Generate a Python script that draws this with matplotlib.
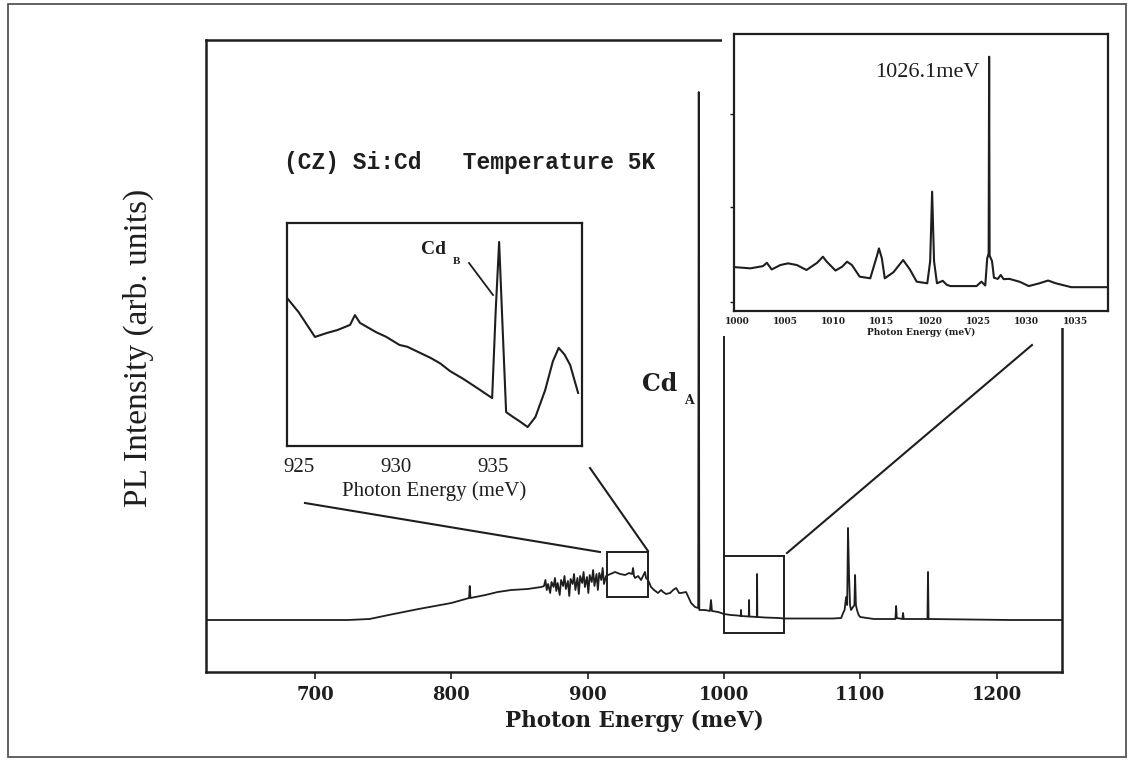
import matplotlib
matplotlib.use("Agg")
import matplotlib.pyplot as plt
from matplotlib.lines import Line2D
from matplotlib.patches import Rectangle

# ---------------- data ----------------
# main spectrum (meV, arb. units)
main_energy = [620.0, 700.0, 724.0, 740.0, 754.0, 776.0, 800.0, 813.0, 813.5, 814.0,
               825.0, 834.0, 844.0, 856.0, 866.0,
               868.0, 869.0, 870.0, 871.0, 872.5, 873.5, 875.0, 876.0, 877.0, 878.0,
               879.5, 880.5, 882.0, 883.0, 884.0, 885.5, 886.5, 887.5, 889.0, 890.0,
               891.0, 892.5, 893.5, 894.5, 896.0, 897.0, 898.0, 899.5, 900.5, 901.5,
               903.0, 904.0, 905.0, 906.5, 907.5, 908.5, 910.0, 911.0, 912.0, 913.5,
               915.0, 920.1, 923.8, 927.4, 930.4, 932.6, 933.3, 934.0, 934.8, 937.0,
               939.2, 940.6, 942.1, 942.8, 944.3, 946.5, 948.7, 951.6, 953.9, 955.3,
               957.5, 960.5, 962.7, 964.9, 967.1, 968.5, 972.2, 975.9, 978.8, 981.1,
               981.5, 981.9, 986.1, 989.7, 990.5, 991.2, 995.7, 1000.1, 1005.0, 1010.0,
               1012.3, 1012.5, 1012.7, 1018.2, 1018.4, 1018.6, 1024.1, 1024.3, 1024.5,
               1030.0, 1040.0, 1044.0, 1060.0, 1080.0, 1086.0, 1087.4, 1088.5, 1089.6,
               1090.4, 1091.0, 1091.8, 1092.5, 1093.2, 1094.7, 1095.7, 1096.2, 1096.8,
               1097.6, 1098.8, 1099.9, 1110.0, 1125.8, 1126.3, 1126.8, 1130.9, 1131.4,
               1131.9, 1149.3, 1149.7, 1150.1, 1180.0, 1210.0, 1248.0]
main_intensity = [0.00, 0.00, 0.00, 0.01, 0.05, 0.11, 0.17, 0.22, 0.34, 0.22,
                  0.25, 0.28, 0.30, 0.31, 0.33,
                  0.34, 0.40, 0.30, 0.36, 0.27, 0.38, 0.33, 0.42, 0.29, 0.37,
                  0.25, 0.40, 0.34, 0.44, 0.31, 0.39, 0.24, 0.41, 0.36, 0.46,
                  0.30, 0.42, 0.26, 0.44, 0.37, 0.48, 0.33, 0.43, 0.27, 0.45,
                  0.38, 0.50, 0.34, 0.46, 0.30, 0.47, 0.40, 0.52, 0.36, 0.44,
                  0.45, 0.48, 0.46, 0.45, 0.47, 0.46, 0.52, 0.44, 0.42, 0.44,
                  0.40, 0.44, 0.48, 0.42, 0.40, 0.33, 0.30, 0.27, 0.30, 0.28,
                  0.26, 0.27, 0.30, 0.32, 0.27, 0.27, 0.28, 0.17, 0.13, 0.12,
                  5.28, 0.10, 0.10, 0.09, 0.20, 0.09, 0.08, 0.06, 0.05, 0.045,
                  0.04, 0.10, 0.04, 0.035, 0.20, 0.035, 0.03, 0.46, 0.03,
                  0.025, 0.02, 0.015, 0.015, 0.015, 0.02, 0.07, 0.10, 0.23,
                  0.15, 0.92, 0.43, 0.15, 0.10, 0.13, 0.15, 0.45, 0.15,
                  0.10, 0.05, 0.03, 0.01, 0.01, 0.14, 0.02, 0.01, 0.07,
                  0.01, 0.01, 0.48, 0.01, 0.005, 0.0, 0.0]
main_xticks = [700, 800, 900, 1000, 1100, 1200]

# left inset: Cd_B region
cdb_energy = [924.4, 925.0, 925.84, 926.46, 927.0, 927.65, 927.9, 928.16, 929.0, 929.5,
              930.2, 930.6, 931.2, 931.8, 932.3, 932.8, 933.5, 934.2, 934.97, 935.15,
              935.33, 935.5, 935.69, 936.05, 936.4, 936.8, 937.2, 937.7, 938.1, 938.4,
              938.7, 938.99, 939.4]
cdb_intensity = [0.664, 0.60, 0.489, 0.507, 0.52, 0.543, 0.587, 0.552, 0.51, 0.49,
                 0.453, 0.445, 0.42, 0.395, 0.37, 0.336, 0.30, 0.26, 0.215, 0.60,
                 0.915, 0.55, 0.152, 0.130, 0.11, 0.085, 0.13, 0.25, 0.38, 0.44,
                 0.41, 0.363, 0.238]
cdb_xticks = [925, 930, 935]

# right inset: 1000-1038 meV region
line_energy = [999.9, 1001.4, 1002.7, 1003.1, 1003.6, 1004.5, 1005.3, 1006.2, 1007.2, 1008.3,
               1008.9, 1009.3, 1010.2, 1010.9, 1011.4, 1011.9, 1012.7, 1013.8, 1014.5, 1014.7,
               1015.0, 1015.3, 1016.2, 1017.2, 1017.9, 1018.6, 1019.7, 1020.0, 1020.2, 1020.4,
               1020.7, 1021.3, 1021.7, 1022.1, 1023.4, 1024.8, 1025.3, 1025.7, 1025.9, 1026.05,
               1026.1, 1026.15, 1026.4, 1026.6, 1027.0, 1027.3, 1027.6, 1028.2, 1029.3, 1030.2,
               1031.3, 1032.2, 1033.0, 1034.6, 1036.0, 1038.4]
line_intensity = [0.158, 0.154, 0.162, 0.174, 0.150, 0.166, 0.172, 0.166, 0.148, 0.174,
                  0.196, 0.178, 0.146, 0.160, 0.178, 0.166, 0.124, 0.118, 0.200, 0.226,
                  0.190, 0.118, 0.140, 0.184, 0.150, 0.106, 0.100, 0.180, 0.431, 0.180,
                  0.100, 0.109, 0.095, 0.090, 0.090, 0.090, 0.106, 0.092, 0.190, 0.208,
                  0.918, 0.200, 0.180, 0.120, 0.116, 0.130, 0.115, 0.116, 0.105, 0.090,
                  0.100, 0.110, 0.100, 0.086, 0.086, 0.086]
line_xticks = [1000, 1005, 1010, 1015, 1020, 1025, 1030, 1035]

# ---------------- layout helpers ----------------
W, H = 1129, 769
ink = "#1e1e1e"
fig = plt.figure(figsize=(W / 100, H / 100), dpi=100)
fig.patch.set_facecolor("white")


def fx(px):
    return px / W


def fy(py):
    return 1 - py / H


def rect(l, t, r, b):
    return [fx(l), fy(b), fx(r) - fx(l), fy(t) - fy(b)]


def fline(x0, y0, x1, y1, lw=1.5, z=5):
    fig.add_artist(Line2D([fx(x0), fx(x1)], [fy(y0), fy(y1)], color=ink, lw=lw,
                          transform=fig.transFigure, zorder=z))


# ---------------- main axes ----------------
ax = fig.add_axes(rect(206, 40, 1062, 672))
ax.set_zorder(0)
ax.plot(main_energy, main_intensity, color=ink, lw=1.3)
ax.set_xlim(620, 1248)
ax.set_ylim(-0.52, 5.80)
ax.set_xticks(main_xticks)
ax.set_yticks([])
ax.tick_params(axis="x", direction="out", length=5, width=1.2, pad=5, colors=ink)
for lbl in ax.get_xticklabels():
    lbl.set_fontfamily("DejaVu Serif")
    lbl.set_fontweight("bold")
    lbl.set_fontsize(13)
for s in ax.spines.values():
    s.set_linewidth(1.8)
    s.set_color(ink)
ax.set_xlabel("Photon Energy (meV)", family="DejaVu Serif", weight="bold",
              fontsize=15.5, color=ink, labelpad=4)

# zoom boxes on the main spectrum
ax.add_patch(Rectangle((914.2, 0.23), 30.1, 0.45, fill=False, ec=ink, lw=1.4, zorder=4))
ax.add_patch(Rectangle((1000.1, -0.13), 44.0, 0.77, fill=False, ec=ink, lw=1.4, zorder=4))
ax.plot([1000.1, 1000.1], [0.64, 2.83], color=ink, lw=1.4)

# white patch hiding the part of the frame behind the right inset
fig.add_artist(Rectangle((fx(722), fy(328)), fx(1115) - fx(722), fy(28) - fy(328),
                         transform=fig.transFigure, fc="white", ec="none", zorder=1))

# connector lines
fline(305, 503, 600, 552)
fline(590, 468, 648, 551)
fline(787, 553, 1032, 345)

# texts on the main plot
fig.text(fx(138), fy(348), "PL Intensity (arb. units)", rotation=90, ha="center",
         va="center", family="Liberation Serif", fontsize=24, color=ink)
fig.text(fx(284), fy(163), "(CZ) Si:Cd   Temperature 5K", ha="left", va="center",
         family="Liberation Mono", weight="bold", fontsize=16.5, color=ink)
fig.text(fx(642), fy(384), "Cd", ha="left", va="center", family="DejaVu Serif",
         weight="bold", fontsize=17, color=ink)
fig.text(fx(684), fy(401), "A", ha="left", va="center", family="DejaVu Serif",
         weight="bold", fontsize=9, color=ink)

# ---------------- left inset ----------------
ax2 = fig.add_axes(rect(287, 223, 582, 446))
ax2.set_zorder(2)
ax2.plot(cdb_energy, cdb_intensity, color=ink, lw=1.5)
ax2.set_xlim(924.4, 939.6)
ax2.set_ylim(0, 1)
ax2.set_xticks(cdb_xticks)
ax2.set_yticks([])
ax2.tick_params(axis="x", length=0, pad=9, colors=ink)
for lbl in ax2.get_xticklabels():
    lbl.set_fontfamily("Liberation Serif")
    lbl.set_fontsize(15)
for s in ax2.spines.values():
    s.set_linewidth(1.6)
    s.set_color(ink)
ax2.set_xlabel("Photon Energy (meV)", family="Liberation Serif", fontsize=15,
               color=ink, labelpad=3)
fig.text(fx(421), fy(250), "Cd", ha="left", va="center", family="Liberation Serif",
         weight="bold", fontsize=14, color=ink)
fig.text(fx(453), fy(262), "B", ha="left", va="center", family="Liberation Serif",
         weight="bold", fontsize=8, color=ink)
fline(469, 263, 493, 295, lw=1.3)

# ---------------- right inset ----------------
ax3 = fig.add_axes(rect(734, 34, 1108, 311))
ax3.set_zorder(2)
ax3.plot(line_energy, line_intensity, color=ink, lw=1.5)
ax3.set_xlim(999.7, 1038.4)
ax3.set_ylim(0, 1)
ax3.set_xticks(line_xticks)
ax3.set_yticks([0.032, 0.375, 0.711])
ax3.set_yticklabels([])
ax3.tick_params(axis="y", direction="out", length=3, width=1, colors=ink)
ax3.tick_params(axis="x", length=0, pad=4, colors=ink)
for lbl in ax3.get_xticklabels():
    lbl.set_fontfamily("DejaVu Serif")
    lbl.set_fontweight("bold")
    lbl.set_fontsize(6.5)
for s in ax3.spines.values():
    s.set_linewidth(1.6)
    s.set_color(ink)
ax3.set_xlabel("Photon Energy (meV)", family="DejaVu Serif", weight="bold",
               fontsize=6.5, color=ink, labelpad=2)
ax3.text(1026.1 - 1.0, 0.86, "1026.1meV", ha="right", va="center",
         family="Liberation Serif", fontsize=16, color=ink)

# outer frame of the scanned figure
fig.add_artist(Rectangle((fx(8), fy(757)), fx(1126) - fx(8), fy(4) - fy(757),
                         transform=fig.transFigure, fill=False, ec="#555555",
                         lw=1.3, zorder=0))

fig.savefig("out.png", dpi=100, facecolor="white")
